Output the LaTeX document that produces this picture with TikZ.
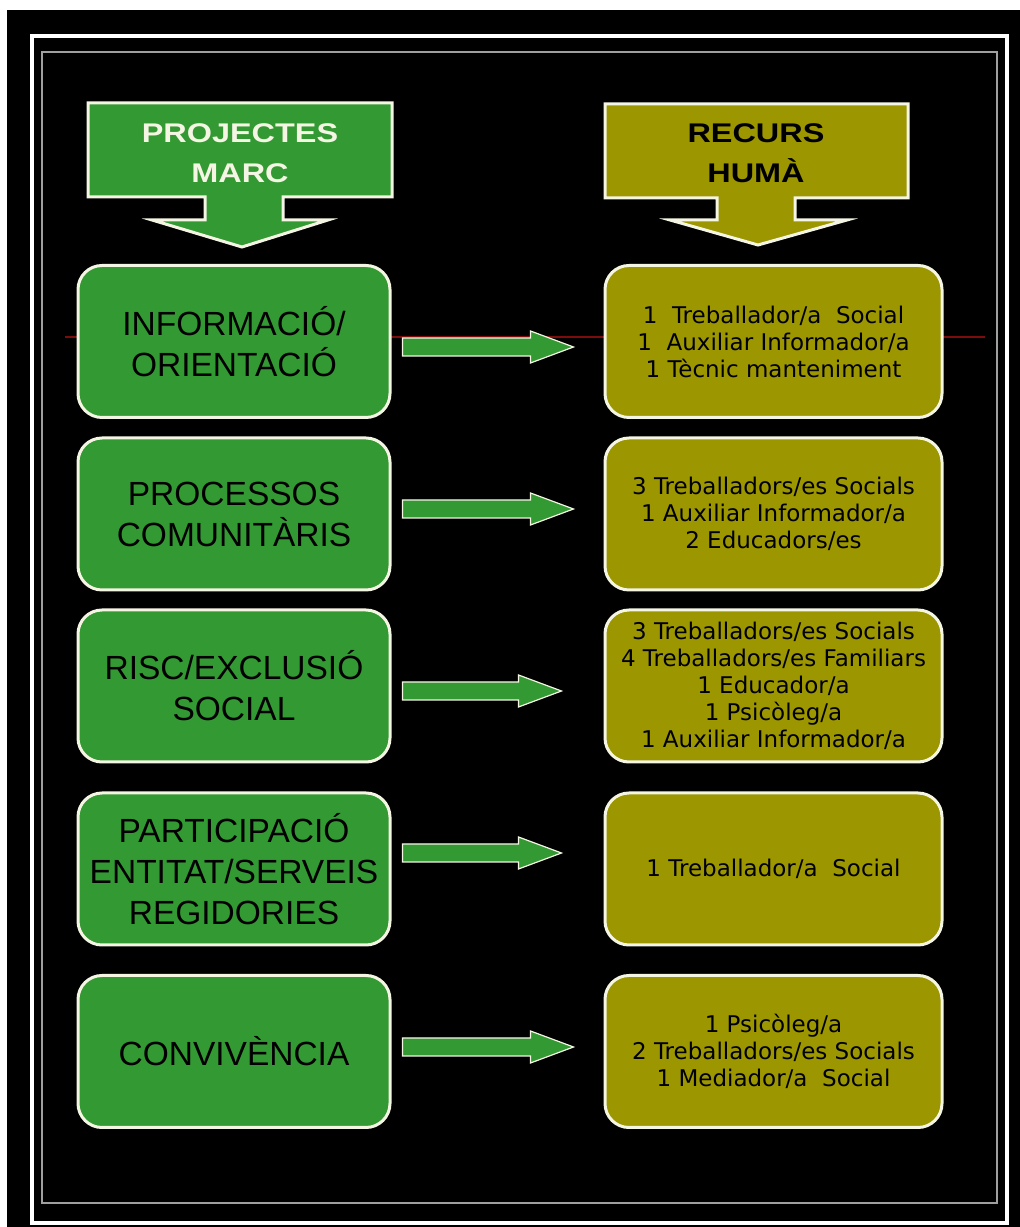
\documentclass[tikz,border=0pt]{standalone}
\usepackage{fontspec}
\setmainfont{Liberation Sans}
\newfontfamily\resfont{DejaVu Sans}
\newfontfamily\headfont[FakeStretch=1.2]{Liberation Sans}
\usetikzlibrary{calc}
\definecolor{projgreen}{RGB}{51,153,51}
\definecolor{recolive}{RGB}{156,150,0}
\definecolor{edgecream}{RGB}{245,245,228}
\definecolor{guidered}{RGB}{125,12,12}
% block arrow from #1 to #2 (same height as #1)
\newcommand{\flowarrow}[2]{%
  \draw[flowarrow] let \p1=(#1), \p2=(#2) in
    (\x1,\y1+9pt) -- (\x2-43pt,\y1+9pt) -- (\x2-43pt,\y1+16pt) -- (\x2,\y1)
    -- (\x2-43pt,\y1-16pt) -- (\x2-43pt,\y1-9pt) -- (\x1,\y1-9pt) -- cycle;}

\begin{document}
\begin{tikzpicture}[x=1pt,y=1pt,
    projbox/.style={draw=edgecream,line width=3pt,rounded corners=24pt,fill=projgreen,
      minimum width=312pt,minimum height=152pt,align=center,text=black,
      font=\fontsize{33.5}{41}\selectfont},
    recbox/.style={draw=edgecream,line width=3pt,rounded corners=24pt,fill=recolive,
      minimum width=337pt,minimum height=152pt,align=center,text=black,
      font=\resfont\fontsize{23}{27}\selectfont},
    headshape/.style={draw=edgecream,line width=3pt},
    flowarrow/.style={draw=edgecream,line width=1.2pt,fill=projgreen}]
  \useasboundingbox (0,0) rectangle (1020,1227);
  \fill[white] (0,0) rectangle (1020,1227);
  \fill[black] (7,0) rectangle (1020,1217);
  \draw[white,line width=4pt] (32,4) rectangle (1007,1191);
  \draw[gray!75,line width=1.5pt] (42,24) rectangle (997,1175);
  \draw[guidered,line width=1.5pt] (65,890) -- (985,890);

  % headers
  \draw[headshape,fill=projgreen] (88,1124) -- (392,1124) -- (392,1030) -- (283,1030)
    -- (283,1007) -- (328,1007) -- (242,980) -- (152,1007) -- (205,1007)
    -- (205,1030) -- (88,1030) -- cycle;
  \draw[headshape,fill=recolive] (605,1123) -- (908,1123) -- (908,1029) -- (795,1029)
    -- (795,1007) -- (847,1007) -- (758,982) -- (670,1007) -- (717,1007)
    -- (717,1029) -- (605,1029) -- cycle;
  \node[align=center,text=edgecream,font=\headfont\bfseries\fontsize{27}{40}\selectfont]
    (hproj) at (240,1074) {PROJECTES\\MARC};
  \node[align=center,text=black,font=\headfont\bfseries\fontsize{27}{40}\selectfont]
    (hrec) at (756,1074) {RECURS\\HUMÀ};

  % projectes marc
  \node[projbox] (p1) at (234,885.5) {INFORMACIÓ/\\ORIENTACIÓ};
  \node[projbox] (p2) at (234,713) {PROCESSOS\\COMUNITÀRIS};
  \node[projbox] (p3) at (234,541) {RISC/EXCLUSIÓ\\SOCIAL};
  \node[projbox] (p4) at (234,358) {PARTICIPACIÓ\\ENTITAT/SERVEIS\\REGIDORIES};
  \node[projbox] (p5) at (234,175.5) {CONVIVÈNCIA};

  % recurs huma
  \node[recbox] (r1) at (773.5,885.5)
    {1\ \ Treballador/a\ \ Social\\1\ \ Auxiliar Informador/a\\1 Tècnic manteniment};
  \node[recbox] (r2) at (773.5,713)
    {3 Treballadors/es Socials\\1 Auxiliar Informador/a\\2 Educadors/es};
  \node[recbox] (r3) at (773.5,541)
    {3 Treballadors/es Socials\\4 Treballadors/es Familiars\\1 Educador/a\\1 Psicòleg/a\\1 Auxiliar Informador/a};
  \node[recbox] (r4) at (773.5,358) {1 Treballador/a\ \ Social};
  \node[recbox] (r5) at (773.5,175.5)
    {1 Psicòleg/a\\2 Treballadors/es Socials\\1 Mediador/a\ \ Social};

  % arrows
  \coordinate (s1) at ($(p1.east)+(11,-5.5)$);
  \coordinate (e1) at ($(r1.west)+(-30,-5.5)$);
  \coordinate (s2) at ($(p2.east)+(11,5)$);
  \coordinate (e2) at ($(r2.west)+(-30,5)$);
  \coordinate (s3) at ($(p3.east)+(11,-5)$);
  \coordinate (e3) at ($(r3.west)+(-42,-5)$);
  \coordinate (s4) at ($(p4.east)+(11,16)$);
  \coordinate (e4) at ($(r4.west)+(-42,16)$);
  \coordinate (s5) at ($(p5.east)+(11,4.5)$);
  \coordinate (e5) at ($(r5.west)+(-30,4.5)$);
  \flowarrow{s1}{e1}
  \flowarrow{s2}{e2}
  \flowarrow{s3}{e3}
  \flowarrow{s4}{e4}
  \flowarrow{s5}{e5}
\end{tikzpicture}
\end{document}
